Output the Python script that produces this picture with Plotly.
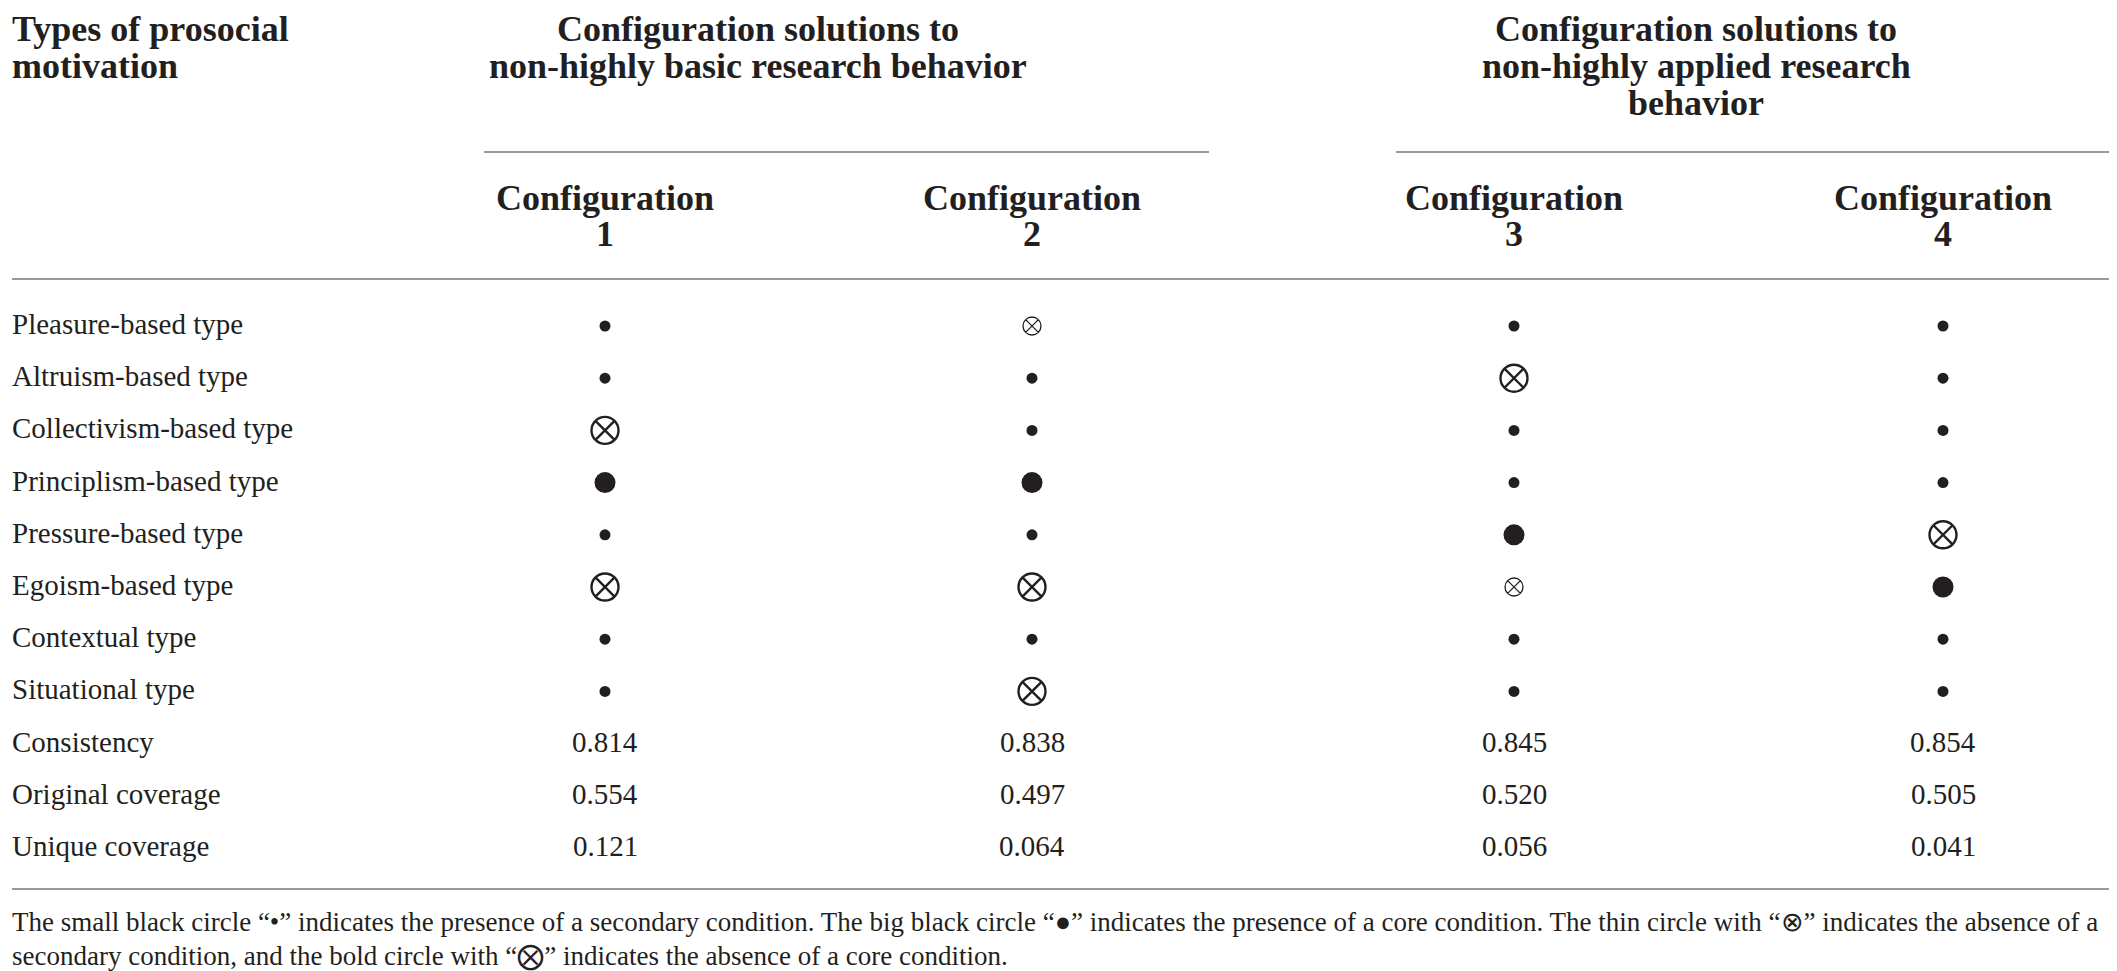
import plotly.graph_objects as go

# table content
conditions = ["Pleasure-based type", "Altruism-based type", "Collectivism-based type",
              "Principlism-based type", "Pressure-based type", "Egoism-based type",
              "Contextual type", "Situational type"]
measures = ["Consistency", "Original coverage", "Unique coverage"]
config_names = ["1", "2", "3", "4"]
group_titles = [["Configuration solutions to", "non-highly basic research behavior"],
                ["Configuration solutions to", "non-highly applied research", "behavior"]]

# s = presence secondary, C = presence core, a = absence secondary, A = absence core
config1 = ["s", "s", "A", "C", "s", "A", "s", "s"]
config2 = ["a", "s", "s", "C", "s", "A", "s", "A"]
config3 = ["s", "A", "s", "s", "C", "a", "s", "s"]
config4 = ["s", "s", "s", "s", "A", "C", "s", "s"]
configs = [config1, config2, config3, config4]

consistency = [0.814, 0.838, 0.845, 0.854]
original_coverage = [0.554, 0.497, 0.520, 0.505]
unique_coverage = [0.121, 0.064, 0.056, 0.041]

note = ["The small black circle \u201c\u2022\u201d indicates the presence of a secondary condition. "
        "The big black circle \u201c\u25cf\u201d indicates the presence of a core condition. "
        "The thin circle with \u201c\u2297\u201d indicates the absence of a",
        "secondary condition, and the bold circle with \u201c\u2a02\u201d indicates the absence of a core condition."]

# layout (pixels)
W, H = 2117, 971
COL_X = [597, 1024, 1506, 1935]
ROW0, ROW_H = 318, 52.2
TXT = "#231f20"
LINE = "#9a9a9a"
SERIF = "Liberation Serif, Times New Roman, serif"
HEAD = 36

styles = {
    "s": dict(symbol="circle", size=11, color=TXT, line=dict(width=0)),
    "C": dict(symbol="circle", size=21, color=TXT, line=dict(width=0)),
    "a": dict(symbol="circle-x-open", size=18, color=TXT, line=dict(width=1.3, color=TXT)),
    "A": dict(symbol="circle-x-open", size=27, color=TXT, line=dict(width=2.4, color=TXT)),
}

fig = go.Figure()

for code, mk in styles.items():
    xs, ys = [], []
    for j, col in enumerate(configs):
        for i, c in enumerate(col):
            if c == code:
                xs.append(COL_X[j])
                ys.append(ROW0 + i * ROW_H)
    fig.add_trace(go.Scatter(x=xs, y=ys, mode="markers", marker=mk,
                             hoverinfo="skip", showlegend=False))

ann = []


def text(x, y, s, size=29, bold=False, anchor="left"):
    if bold:
        s = "<b>" + s + "</b>"
    ann.append(dict(x=x, y=y, xref="x", yref="y", text=s, showarrow=False,
                    xanchor=anchor, yanchor="middle",
                    font=dict(family=SERIF, size=size, color=TXT)))


# header
text(2, 21, "Types of prosocial", HEAD, True)
text(2, 58, "motivation", HEAD, True)
for k, lines in enumerate(group_titles):
    cx = [750, 1688][k]
    for n, ln in enumerate(lines):
        text(cx, 21 + 37 * n, ln, HEAD, True, "center")
for j, name in enumerate(config_names):
    text(COL_X[j], 190, "Configuration", HEAD, True, "center")
    text(COL_X[j], 226, name, HEAD, True, "center")

# body rows
for i, c in enumerate(conditions):
    text(2, ROW0 + i * ROW_H - 2, c)
for k, (m, vals) in enumerate(zip(measures, [consistency, original_coverage, unique_coverage])):
    y = ROW0 + (len(conditions) + k) * ROW_H - 2
    text(2, y, m)
    for j, v in enumerate(vals):
        text(COL_X[j], y, f"{v:.3f}", anchor="center")

# note
text(2, 914, note[0], 27)
text(2, 948, note[1], 27)

shapes = [
    dict(type="line", x0=476, x1=1201, y0=144, y1=144),
    dict(type="line", x0=1388, x1=2112, y0=144, y1=144),
    dict(type="line", x0=4, x1=2112, y0=271, y1=271),
    dict(type="line", x0=4, x1=2112, y0=881, y1=881),
]
for s in shapes:
    s.update(xref="x", yref="y", line=dict(color=LINE, width=2))

fig.update_layout(
    width=W, height=H,
    margin=dict(l=0, r=0, t=0, b=0),
    paper_bgcolor="white", plot_bgcolor="white",
    xaxis=dict(range=[0, W], visible=False, fixedrange=True),
    yaxis=dict(range=[H, 0], visible=False, fixedrange=True),
    annotations=ann, shapes=shapes, showlegend=False,
)

fig.write_html("out.html")
